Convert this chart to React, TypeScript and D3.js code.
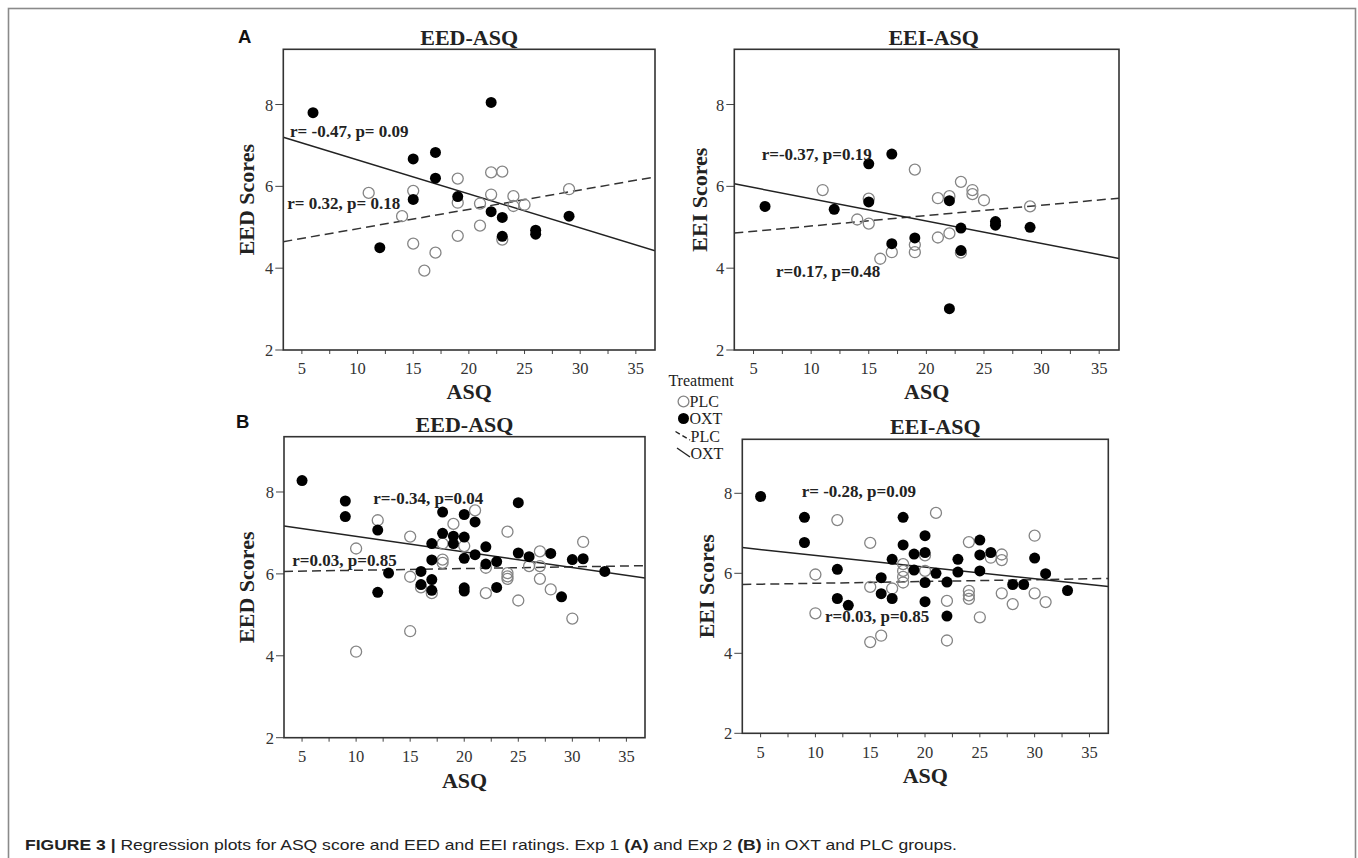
import React from 'react';
import * as d3 from 'd3';

// ---------- tick values ----------
const xTicksMajor = [5, 10, 15, 20, 25, 30, 35];
const xTicksMinor = [7.5, 12.5, 17.5, 22.5, 27.5, 32.5];
const yTicks = [2, 4, 6, 8];
const xDomain: [number, number] = [3.33, 36.72];
const yDomain: [number, number] = [2, 9.35];

// ---------- Exp 1, EED ----------
const exp1EedOxt: [number, number][] = [
  [6, 7.8], [22, 8.05], [15, 6.67], [17, 6.83], [17, 6.2], [15, 5.68], [19, 5.75],
  [22, 5.38], [23, 5.24], [23, 4.78], [26, 4.93], [26, 4.83], [29, 5.27], [12, 4.5],
];
const exp1EedPlc: [number, number][] = [
  [11, 5.84], [14, 5.27], [15, 5.89], [15, 4.6], [17, 4.38], [16, 3.94], [19, 6.19],
  [19, 5.6], [19, 4.79], [21, 5.58], [21, 5.04], [22, 6.34], [23, 6.36], [22, 5.8],
  [24, 5.76], [24, 5.52], [25, 5.55], [23, 4.7], [29, 5.93],
];
const exp1EedOxtFit = [7.478, -0.0831]; // intercept, slope
const exp1EedPlcFit = [4.49, 0.0474];

// ---------- Exp 1, EEI ----------
const exp1EeiOxt: [number, number][] = [
  [6, 5.51], [12, 5.44], [15, 6.55], [15, 5.62], [17, 6.79], [17, 4.6], [19, 4.74],
  [22, 5.65], [22, 3.01], [23, 4.98], [23, 4.43], [26, 5.14], [26, 5.05], [29, 5.0],
];
const exp1EeiPlc: [number, number][] = [
  [11, 5.91], [14, 5.19], [15, 5.7], [15, 5.09], [16, 4.23], [17, 4.39], [19, 6.41],
  [19, 4.57], [19, 4.39], [21, 5.71], [21, 4.75], [22, 5.76], [22, 4.85], [23, 6.11],
  [23, 4.38], [24, 5.91], [24, 5.81], [25, 5.66], [29, 5.51],
];
const exp1EeiOxtFit = [6.243, -0.0546];
const exp1EeiPlcFit = [4.775, 0.0255];

// ---------- Exp 2, EED ----------
const exp2EedOxt: [number, number][] = [
  [5, 8.28], [9, 7.78], [9, 7.4], [12, 7.07], [12, 5.55], [13, 6.02], [16, 6.06],
  [16, 5.74], [17, 6.74], [17, 6.34], [17, 5.86], [17, 5.6], [18, 7.51], [18, 6.99],
  [19, 6.92], [19, 6.74], [20, 7.45], [20, 6.9], [20, 6.38], [20, 5.66], [20, 5.58],
  [21, 7.27], [21, 6.47], [22, 6.66], [22, 6.24], [23, 6.3], [23, 5.67], [25, 7.74],
  [25, 6.51], [26, 6.42], [28, 6.5], [29, 5.44], [30, 6.35], [31, 6.37], [33, 6.06],
];
const exp2EedPlc: [number, number][] = [
  [10, 6.62], [10, 4.1], [12, 7.31], [15, 6.91], [15, 5.93], [15, 4.6], [16, 5.67],
  [17, 5.53], [18, 6.74], [18, 6.35], [18, 6.27], [19, 7.22], [20, 6.68], [21, 7.55],
  [22, 6.15], [22, 5.53], [24, 7.03], [24, 6.02], [24, 5.94], [24, 5.88], [25, 5.35],
  [26, 6.19], [27, 6.55], [27, 6.19], [27, 5.88], [28, 5.62], [30, 4.91], [31, 6.78],
];
const exp2EedOxtFit = [7.295, -0.038];
const exp2EedPlcFit = [6.046, 0.0042];

// ---------- Exp 2, EEI ----------
const exp2EeiOxt: [number, number][] = [
  [5, 7.92], [9, 7.4], [9, 6.77], [12, 6.1], [12, 5.37], [13, 5.2], [16, 5.89],
  [16, 5.49], [17, 6.35], [17, 5.37], [18, 7.4], [18, 6.71], [19, 6.48], [19, 6.08],
  [20, 6.94], [20, 6.52], [20, 5.77], [20, 5.29], [21, 6.0], [22, 5.78], [22, 4.93],
  [23, 6.35], [23, 6.03], [25, 6.83], [25, 6.46], [25, 6.06], [26, 6.52], [28, 5.72],
  [29, 5.72], [30, 6.38], [31, 5.99], [33, 5.57],
];
const exp2EeiPlc: [number, number][] = [
  [10, 5.97], [10, 5.0], [12, 7.33], [15, 6.76], [15, 5.66], [15, 4.28], [16, 4.44],
  [17, 5.62], [18, 6.23], [18, 6.06], [18, 5.91], [18, 5.77], [20, 6.45], [20, 6.06],
  [21, 7.51], [22, 5.31], [22, 4.32], [24, 6.78], [24, 5.56], [24, 5.45], [24, 5.36],
  [25, 4.9], [26, 6.39], [27, 6.47], [27, 6.33], [27, 5.5], [28, 5.23], [30, 6.94],
  [30, 5.5], [31, 5.28],
];
const exp2EeiOxtFit = [6.739, -0.0291];
const exp2EeiPlcFit = [5.705, 0.0045];

// ---------- text ----------
const panelTitles = ['EED-ASQ', 'EEI-ASQ', 'EED-ASQ', 'EEI-ASQ'];
const yLabels = ['EED Scores', 'EEI Scores', 'EED Scores', 'EEI Scores'];
const exp1EedNotes = ['r= -0.47, p= 0.09', 'r= 0.32, p= 0.18'];
const exp1EeiNotes = ['r=-0.37, p=0.19', 'r=0.17, p=0.48'];
const exp2EedNotes = ['r=-0.34, p=0.04', 'r=0.03, p=0.85'];
const exp2EeiNotes = ['r= -0.28, p=0.09', 'r=0.03, p=0.85'];
const legendItems = ['PLC', 'OXT', 'PLC', 'OXT'];

// ---------- layout ----------
const SERIF = '"Liberation Serif", "Times New Roman", Times, serif';
const SANS = '"Liberation Sans", Arial, Helvetica, sans-serif';

const panels = [
  {
    box: { x: 283.3, y: 49.3, w: 371.7, h: 300.7 }, titleDx: 0, titleY: 44.5, tickY: 374, xLabY: 399, yLabX: 254,
    title: panelTitles[0], yLabel: yLabels[0], oxt: exp1EedOxt, plc: exp1EedPlc, oxtFit: exp1EedOxtFit, plcFit: exp1EedPlcFit,
    notes: exp1EedNotes, notePos: [[6.7, 87.7], [4, 159.7]],
  },
  {
    box: { x: 734.3, y: 49.3, w: 384.7, h: 300.7 }, titleDx: 7, titleY: 44.5, tickY: 374, xLabY: 399, yLabX: 707,
    title: panelTitles[1], yLabel: yLabels[1], oxt: exp1EeiOxt, plc: exp1EeiPlc, oxtFit: exp1EeiOxtFit, plcFit: exp1EeiPlcFit,
    notes: exp1EeiNotes, notePos: [[27.4, 110.7], [41.7, 228]],
  },
  {
    box: { x: 284, y: 436.7, w: 361, h: 301 }, titleDx: 0, titleY: 431.5, tickY: 762, xLabY: 788, yLabX: 254,
    title: panelTitles[2], yLabel: yLabels[2], oxt: exp2EedOxt, plc: exp2EedPlc, oxtFit: exp2EedOxtFit, plcFit: exp2EedPlcFit,
    notes: exp2EedNotes, notePos: [[89.3, 67.6], [8.3, 129]],
  },
  {
    box: { x: 742.3, y: 439.3, w: 366, h: 294 }, titleDx: 10, titleY: 434, tickY: 758, xLabY: 783, yLabX: 714,
    title: panelTitles[3], yLabel: yLabels[3], oxt: exp2EeiOxt, plc: exp2EeiPlc, oxtFit: exp2EeiOxtFit, plcFit: exp2EeiPlcFit,
    notes: exp2EeiNotes, notePos: [[59.4, 57.4], [82.7, 182.4]],
  },
];

function Panel({ p, idx }: { p: any; idx: number }) {
  const { box } = p;
  const x = d3.scaleLinear().domain(xDomain).range([box.x, box.x + box.w]);
  const y = d3.scaleLinear().domain(yDomain).range([box.y + box.h, box.y]);
  const fitLine = (fit: number[]) => {
    const line = d3.line<number>().x((v) => x(v)).y((v) => y(fit[0] + fit[1] * v));
    return line(xDomain) || '';
  };
  const clipId = `clip${idx}`;
  const cx = box.x + box.w / 2;
  const cy = box.y + box.h / 2;
  const bottom = box.y + box.h;
  return (
    <g>
      <defs>
        <clipPath id={clipId}>
          <rect x={box.x} y={box.y} width={box.w} height={box.h} />
        </clipPath>
      </defs>
      <text x={cx + p.titleDx} y={p.titleY} textAnchor="middle" fontFamily={SERIF} fontWeight="bold" fontSize={22} fill="#222">
        {p.title}
      </text>
      {[...xTicksMajor, ...xTicksMinor].map((t) => (
        <line key={'xt' + t} x1={x(t)} x2={x(t)} y1={bottom} y2={bottom + 4} stroke="#444" strokeWidth={1} />
      ))}
      {xTicksMajor.map((t) => (
        <text key={'xl' + t} x={x(t)} y={p.tickY} textAnchor="middle" fontFamily={SERIF} fontSize={16.5} fill="#333">
          {t}
        </text>
      ))}
      {yTicks.map((t) => (
        <g key={'y' + t}>
          <line x1={box.x - 8} x2={box.x} y1={y(t)} y2={y(t)} stroke="#444" strokeWidth={1} />
          <text x={box.x - 10} y={y(t) + 6} textAnchor="end" fontFamily={SERIF} fontSize={16.5} fill="#333">
            {t}
          </text>
        </g>
      ))}
      <text x={cx} y={p.xLabY} textAnchor="middle" fontFamily={SERIF} fontWeight="bold" fontSize={22} fill="#222">
        ASQ
      </text>
      <text
        transform={`translate(${p.yLabX},${cy}) rotate(-90)`}
        textAnchor="middle"
        fontFamily={SERIF}
        fontWeight="bold"
        fontSize={22}
        fill="#222"
      >
        {p.yLabel}
      </text>
      <g clipPath={`url(#${clipId})`}>
        <path d={fitLine(p.plcFit)} fill="none" stroke="#333" strokeWidth={1.5} strokeDasharray="9,5" />
        <path d={fitLine(p.oxtFit)} fill="none" stroke="#222" strokeWidth={1.5} />
        {p.plc.map((d: [number, number], i: number) => (
          <circle key={'p' + i} cx={x(d[0])} cy={y(d[1])} r={5.5} fill="none" stroke="#858585" strokeWidth={1.3} />
        ))}
        {p.oxt.map((d: [number, number], i: number) => (
          <circle key={'o' + i} cx={x(d[0])} cy={y(d[1])} r={5.5} fill="#000" />
        ))}
      </g>
      <rect x={box.x} y={box.y} width={box.w} height={box.h} fill="none" stroke="#333" strokeWidth={1.6} />
      {p.notes.map((n: string, i: number) => (
        <text
          key={'n' + i}
          x={box.x + p.notePos[i][0]}
          y={box.y + p.notePos[i][1]}
          fontFamily={SERIF}
          fontWeight="bold"
          fontSize={17}
          fill="#222"
        >
          {n}
        </text>
      ))}
    </g>
  );
}

export default function App() {
  const captionBold = 'FIGURE 3 | ';
  const captionText = 'Regression plots  for ASQ score and EED and EEI ratings. Exp 1 ';
  return (
    <svg
      width={1358}
      height={858}
      viewBox="0 0 1358 858"
      style={{ position: 'absolute', left: 0, top: 0, background: '#fff' }}
    >
      <rect x={0} y={0} width={1358} height={858} fill="#fff" />
      <rect x={8.5} y={8.5} width={1347} height={900} fill="none" stroke="#8a8a8a" strokeWidth={1.6} />
      <text x={238} y={42.7} fontFamily={SANS} fontWeight="bold" fontSize={18.5} fill="#111">A</text>
      <text x={236} y={428} fontFamily={SANS} fontWeight="bold" fontSize={18.5} fill="#111">B</text>
      {panels.map((p, i) => (
        <Panel key={i} p={p} idx={i} />
      ))}
      <g fontFamily={SERIF} fontSize={16} fill="#222">
        <text x={701} y={386} textAnchor="middle">Treatment</text>
        <circle cx={683.5} cy={401.5} r={5.4} fill="none" stroke="#858585" strokeWidth={1.3} />
        <text x={689.5} y={407}>{legendItems[0]}</text>
        <circle cx={683.5} cy={418.5} r={5.5} fill="#000" />
        <text x={689.5} y={424}>{legendItems[1]}</text>
        <line x1={675.5} y1={431.5} x2={690} y2={440} stroke="#222" strokeWidth={1.4} strokeDasharray="5,3" />
        <text x={690.5} y={441.5}>{legendItems[2]}</text>
        <line x1={677} y1={448} x2={690} y2={457} stroke="#222" strokeWidth={1.4} />
        <text x={690.5} y={459}>{legendItems[3]}</text>
      </g>
      <text x={25} y={850} fontFamily={SANS} fontSize={15} fill="#222" textLength={932} lengthAdjust="spacingAndGlyphs">
        <tspan fontWeight="bold">{captionBold}</tspan>
        <tspan>{captionText}</tspan>
        <tspan fontWeight="bold">(A)</tspan>
        <tspan> and Exp 2 </tspan>
        <tspan fontWeight="bold">(B)</tspan>
        <tspan> in OXT and PLC groups.</tspan>
      </text>
    </svg>
  );
}
